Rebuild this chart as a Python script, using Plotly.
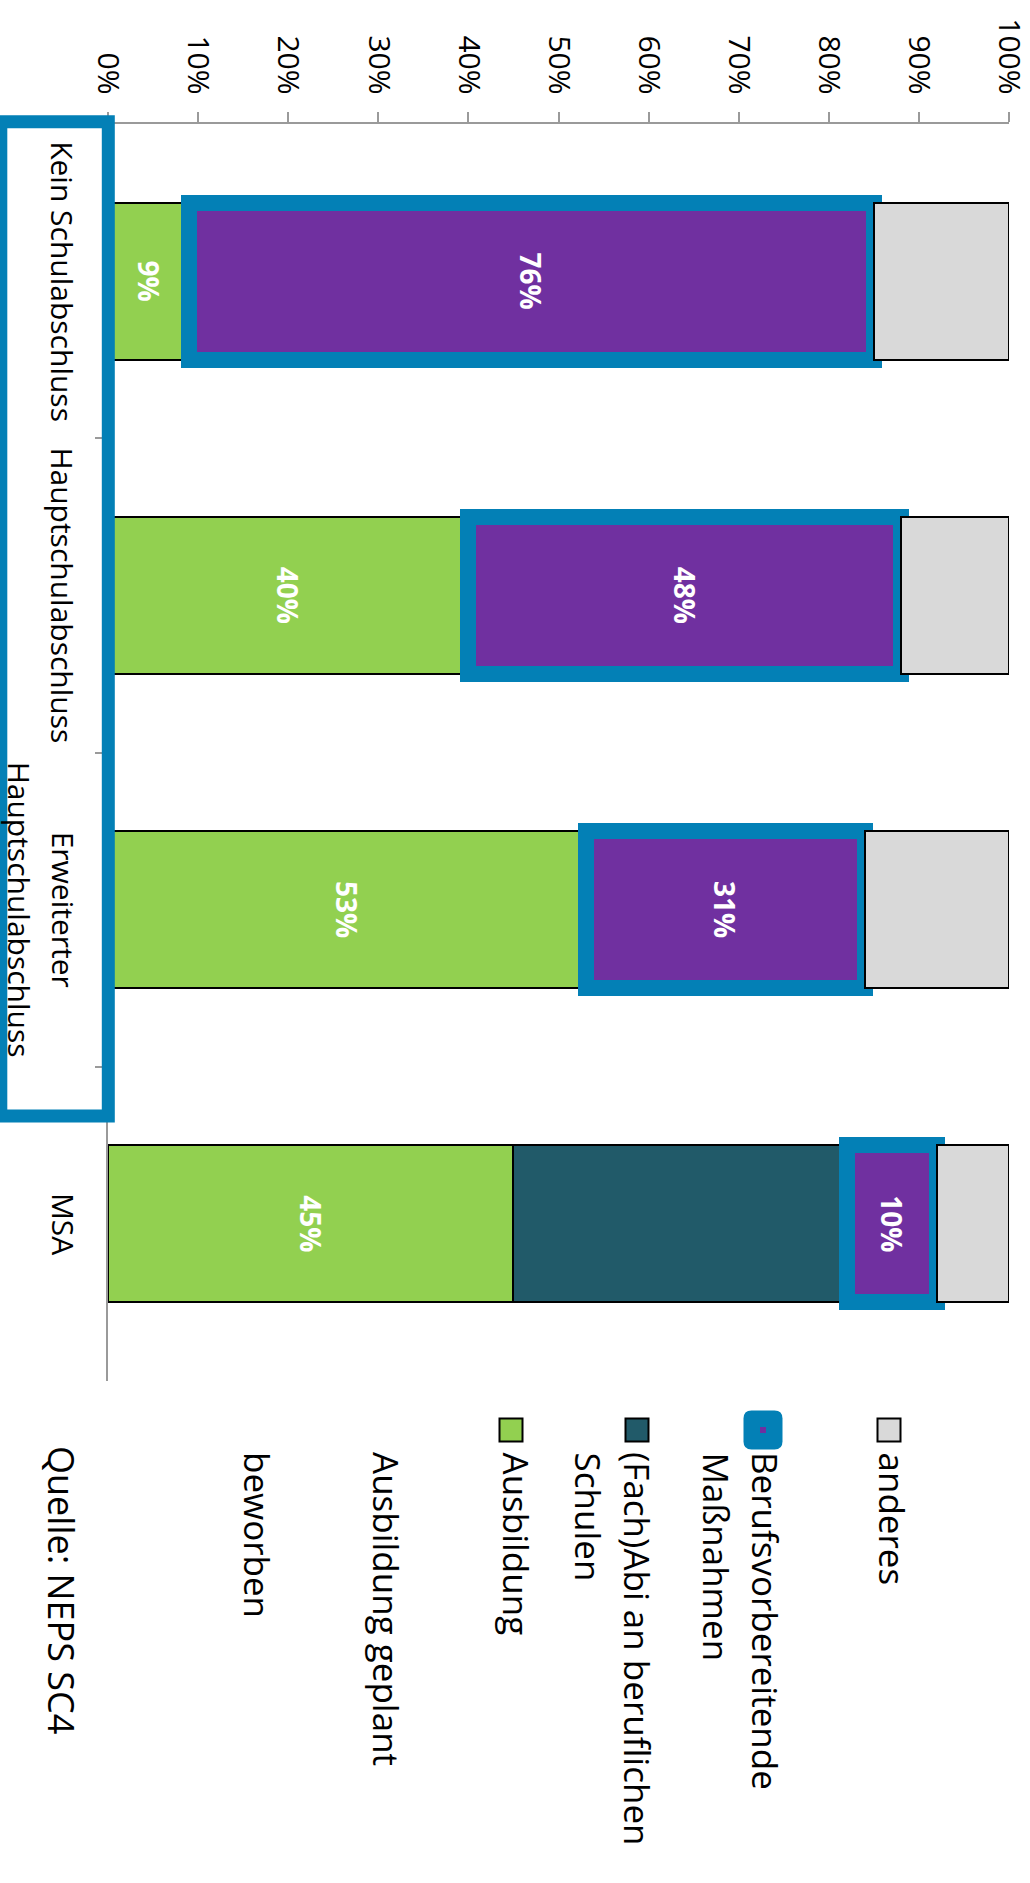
import plotly.graph_objects as go

# ---------------------------------------------------------------- data
categories = ["Kein Schulabschluss", "Hauptschulabschluss",
              "Erweiterter Hauptschulabschluss", "MSA"]
category_lines = [["Kein Schulabschluss"], ["Hauptschulabschluss"],
                  ["Erweiterter", "Hauptschulabschluss"], ["MSA"]]

ausbildung = [9, 40, 53, 45]
fachabi = [None, None, None, 37]
berufsvorbereitend = [76, 48, 31, 10]
anderes = [15, 12, 16, 8]

x_tick_values = [0, 10, 20, 30, 40, 50, 60, 70, 80, 90, 100]

legend_labels = [["anderes"],
                 ["Berufsvorbereitende", "Maßnahmen"],
                 ["(Fach)Abi an beruflichen", "Schulen"],
                 ["Ausbildung"],
                 ["Ausbildung geplant"],
                 ["beworben"]]
source_text = "Quelle: NEPS SC4"

# ---------------------------------------------------------------- style
GREEN = "#92D050"
TEAL = "#215A69"
PURPLE = "#7030A0"
GRAY = "#D9D9D9"
BLUE = "#0380B6"
AXIS_GRAY = "#9A9A9A"
FONT = "Open Sans"

W, H = 1030, 1883
M_L, M_R, M_T, M_B = 108, 21, 124, 502
PW = W - M_L - M_R
PH = H - M_T - M_B


def px_x(px):
    """page pixel x -> paper x"""
    return (px - M_L) / PW


def px_y(py):
    """page pixel y -> paper y"""
    return (H - M_B - py) / PH


def pct_labels(values):
    return [f"{v}%" if v is not None else "" for v in values]


fig = go.Figure()

fig.add_trace(go.Bar(
    y=categories, x=ausbildung, orientation="h", name="Ausbildung",
    marker=dict(color=GREEN, line=dict(color="black", width=2)),
    text=pct_labels(ausbildung),
))
fig.add_trace(go.Bar(
    y=categories, x=fachabi, orientation="h",
    name="(Fach)Abi an beruflichen Schulen",
    marker=dict(color=TEAL, line=dict(color="black", width=2)),
))
fig.add_trace(go.Bar(
    y=categories, x=berufsvorbereitend, orientation="h",
    name="Berufsvorbereitende Maßnahmen",
    marker=dict(color=PURPLE, line=dict(color=BLUE, width=16)),
    text=pct_labels(berufsvorbereitend),
))
fig.add_trace(go.Bar(
    y=categories, x=anderes, orientation="h", name="anderes",
    marker=dict(color=GRAY, line=dict(color="black", width=2)),
))

fig.update_traces(
    textposition="inside", insidetextanchor="middle", textangle=90,
    textfont=dict(family=FONT, size=28, color="white", weight="bold"),
    showlegend=False, hoverinfo="skip",
)

annotations = []
shapes = []

# category labels, rotated like the rest of the chart
CAT_LINE_SHIFT = [-45, -89]
for cat, lines in zip(categories, category_lines):
    for i, line in enumerate(lines):
        annotations.append(dict(
            xref="paper", yref="y", x=0, y=cat, xshift=CAT_LINE_SHIFT[i],
            text=line, showarrow=False, textangle=90,
            xanchor="center", yanchor="middle",
            font=dict(family=FONT, size=30, color="black"),
        ))

# highlight frame around the first three categories
shapes.append(dict(
    type="rect", xref="paper", yref="paper", layer="above",
    x0=px_x(0.8), x1=px_x(108.3), y0=px_y(1116), y1=px_y(121.7),
    line=dict(color=BLUE, width=13), fillcolor="rgba(0,0,0,0)",
))


def rounded_path(x0, y0, x1, y1, r):
    pts = [
        ("M", [(x0 + r, y0)]), ("L", [(x1 - r, y0)]), ("Q", [(x1, y0), (x1, y0 + r)]),
        ("L", [(x1, y1 - r)]), ("Q", [(x1, y1), (x1 - r, y1)]),
        ("L", [(x0 + r, y1)]), ("Q", [(x0, y1), (x0, y1 - r)]),
        ("L", [(x0, y0 + r)]), ("Q", [(x0, y0), (x0 + r, y0)]),
    ]
    out = []
    for cmd, coords in pts:
        out.append(cmd + " " + " ".join(f"{px_x(a):.5f},{px_y(b):.5f}" for a, b in coords))
    return " ".join(out) + " Z"


# legend (drawn rotated by hand)
LEG_FIRST_CX = [892, 766, 638, 516, 387, 258]
LEG_LINE_STEP = 50
LEG_TOP = 1450
SWATCH_CX = [889, 763, 637, 511]
SWATCH_CY = 1430
SW = 23
swatch_fill = [GRAY, PURPLE, TEAL, GREEN]

for i, lines in enumerate(legend_labels):
    for j, line in enumerate(lines):
        annotations.append(dict(
            xref="paper", yref="paper",
            x=px_x(LEG_FIRST_CX[i] - j * LEG_LINE_STEP), y=px_y(LEG_TOP),
            text=line, showarrow=False, textangle=90,
            xanchor="center", yanchor="top",
            font=dict(family=FONT, size=35, color="black"),
        ))

for i, fill in enumerate(swatch_fill):
    cx = SWATCH_CX[i]
    if fill == PURPLE:
        half = SW / 2 + 8
        shapes.append(dict(
            type="path", xref="paper", yref="paper", layer="above",
            path=rounded_path(cx - half, SWATCH_CY - half, cx + half, SWATCH_CY + half, 8),
            fillcolor=BLUE, line=dict(width=0),
        ))
        shapes.append(dict(
            type="rect", xref="paper", yref="paper", layer="above",
            x0=px_x(cx - 3), x1=px_x(cx + 3),
            y0=px_y(SWATCH_CY + 3), y1=px_y(SWATCH_CY - 3),
            fillcolor=PURPLE, line=dict(width=0),
        ))
    else:
        shapes.append(dict(
            type="rect", xref="paper", yref="paper", layer="above",
            x0=px_x(cx - SW / 2), x1=px_x(cx + SW / 2),
            y0=px_y(SWATCH_CY + SW / 2), y1=px_y(SWATCH_CY - SW / 2),
            fillcolor=fill, line=dict(color="black", width=2),
        ))

annotations.append(dict(
    xref="paper", yref="paper", x=px_x(62), y=px_y(1444),
    text=source_text, showarrow=False, textangle=90,
    xanchor="center", yanchor="top",
    font=dict(family=FONT, size=36, color="black"),
))

fig.update_layout(
    width=W, height=H,
    margin=dict(l=M_L, r=M_R, t=M_T, b=M_B, autoexpand=False),
    paper_bgcolor="white", plot_bgcolor="white",
    barmode="stack", bargap=0.5,
    showlegend=False,
    font=dict(family=FONT, color="black"),
    xaxis=dict(
        side="top", range=[0, 100], tickvals=x_tick_values,
        ticktext=[f"{v}%" for v in x_tick_values],
        tickangle=90, ticks="outside", ticklen=10, tickwidth=1.5,
        tickcolor=AXIS_GRAY, showline=True, linecolor=AXIS_GRAY, linewidth=2,
        showgrid=False, zeroline=False, automargin=False,
        ticklabelstandoff=7, ticklabeloverflow="allow",
        tickfont=dict(family=FONT, size=30, color="black"),
    ),
    yaxis=dict(
        type="category", categoryorder="array", categoryarray=categories,
        autorange="reversed", showticklabels=False,
        ticks="outside", tickson="boundaries", ticklen=11, tickwidth=1.5,
        tickcolor=AXIS_GRAY, showline=True, linecolor=AXIS_GRAY, linewidth=1.5,
        showgrid=False, zeroline=False, automargin=False,
    ),
    annotations=annotations,
    shapes=shapes,
)

fig.write_html("out.html")
